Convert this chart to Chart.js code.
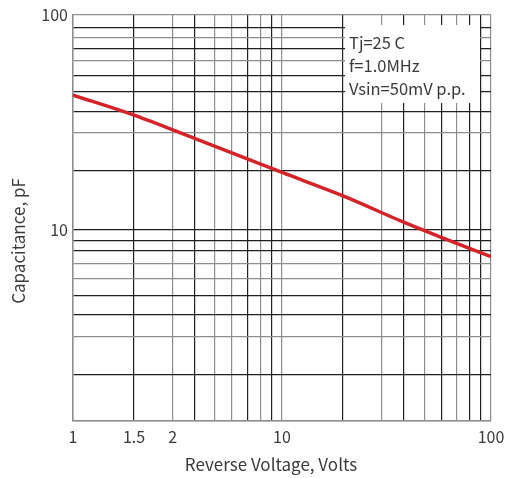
<!DOCTYPE html>
<html>
<head>
<meta charset="utf-8">
<script src="https://cdn.jsdelivr.net/npm/chart.js@4"></script>
<style>
  html, body { margin: 0; padding: 0; background: #fff; }
  #wrap { width: 505px; height: 478px; }
</style>
</head>
<body>
<div id="wrap"><canvas id="capChart"></canvas></div>
<script>
// curve: reverse voltage (V) -> capacitance (pF)
const voltage = [1, 1.96, 3.87, 10, 19.6, 38.2, 58.2, 100];
const capacitance = [42.4, 34.2, 26.5, 18.5, 14.4, 10.86, 9.21, 7.51];

// grid line values as drawn in the original
const xGrid = [1, 1.96, 3.0, 3.83, 4.78, 5.77, 6.87, 7.93, 8.95, 10, 19.6, 30.1, 38.2, 48.1, 58.2, 68.5, 79.2, 89.4, 100];
const xLabels = { 1: '1', 1.96: '1.5', 3.0: '2', 10: '10', 100: '100' };
const yGrid = [1.29, 2.13, 3.19, 4.02, 4.97, 5.96, 6.95, 8.01, 8.92, 10, 18.8, 28.3, 35.4, 43.8, 52.2, 61.1, 69.5, 78.4, 87, 100];
const yLabels = { 10: '10', 100: '100' };

const conditions = ['Tj=25 C', 'f=1.0MHz', 'Vsin=50mV p.p.'];
const xTitle = 'Reverse Voltage, Volts';
const yTitle = 'Capacitance, pF';

const FONT = "'Noto Sans CJK SC', 'Noto Sans', sans-serif";
const DARK = '#231f20';
const GREY = '#8e8e8e';
const TXT = '#3a3a3a';

// lines drawn grey in the original (others dark)
const xGreyIdx = [0, 2, 4, 5, 7, 9, 11, 13, 15, 18];
const yGreyIdx = [0, 2, 5, 6, 11, 15, 17, 19];

const overlay = {
  id: 'overlay',
  afterDatasetsDraw(chart) {
    const ctx = chart.ctx;
    ctx.save();
    // condition box
    ctx.fillStyle = '#fff';
    ctx.fillRect(345, 25, 135, 78);
    ctx.fillStyle = TXT;
    ctx.font = '16.5px ' + FONT;
    ctx.textBaseline = 'middle';
    ctx.textAlign = 'left';
    conditions.forEach((t, i) => ctx.fillText(t, 349, 43 + i * 23));
    // axis titles
    ctx.font = '17px ' + FONT;
    ctx.textAlign = 'center';
    ctx.fillText(xTitle, 271, 465);
    ctx.translate(19, 241);
    ctx.rotate(-Math.PI / 2);
    ctx.fillText(yTitle, 0, 0);
    ctx.restore();
  }
};

new Chart(document.getElementById('capChart').getContext('2d'), {
  type: 'line',
  data: {
    datasets: [{
      data: voltage.map((v, i) => ({ x: v, y: capacitance[i] })),
      borderColor: '#d42329',
      borderWidth: 3.5,
      pointRadius: 0,
      cubicInterpolationMode: 'monotone',
      fill: false
    }]
  },
  options: {
    responsive: true,
    maintainAspectRatio: false,
    animation: false,
    layout: { padding: { top: 15, right: 14, left: 0, bottom: 0 } },
    plugins: { legend: { display: false }, tooltip: { enabled: false } },
    scales: {
      x: {
        type: 'logarithmic',
        min: 1,
        max: 100,
        afterBuildTicks: (s) => { s.ticks = xGrid.map(v => ({ value: v })); },
        afterFit: (s) => { s.height = 57; s.paddingLeft = 0; s.paddingRight = 0; },
        ticks: {
          autoSkip: false,
          maxRotation: 0,
          padding: 6,
          color: TXT,
          font: { family: FONT, size: 16 },
          callback: (v) => xLabels[v] || ''
        },
        grid: {
          drawTicks: false,
          lineWidth: 1.2,
          color: (c) => xGreyIdx.includes(c.index) ? GREY : DARK
        },
        border: { color: GREY, width: 1.5 }
      },
      y: {
        type: 'logarithmic',
        min: 1.29,
        max: 100,
        afterBuildTicks: (s) => { s.ticks = yGrid.map(v => ({ value: v })); },
        afterFit: (s) => { s.width = 73; s.paddingTop = 0; s.paddingBottom = 0; },
        ticks: {
          autoSkip: false,
          padding: 5,
          color: TXT,
          font: { family: FONT, size: 16 },
          callback: (v) => yLabels[v] || ''
        },
        grid: {
          drawTicks: false,
          lineWidth: 1.2,
          color: (c) => yGreyIdx.includes(c.index) ? GREY : DARK
        },
        border: { color: GREY, width: 1.5 }
      }
    }
  },
  plugins: [overlay]
});
</script>
</body>
</html>
